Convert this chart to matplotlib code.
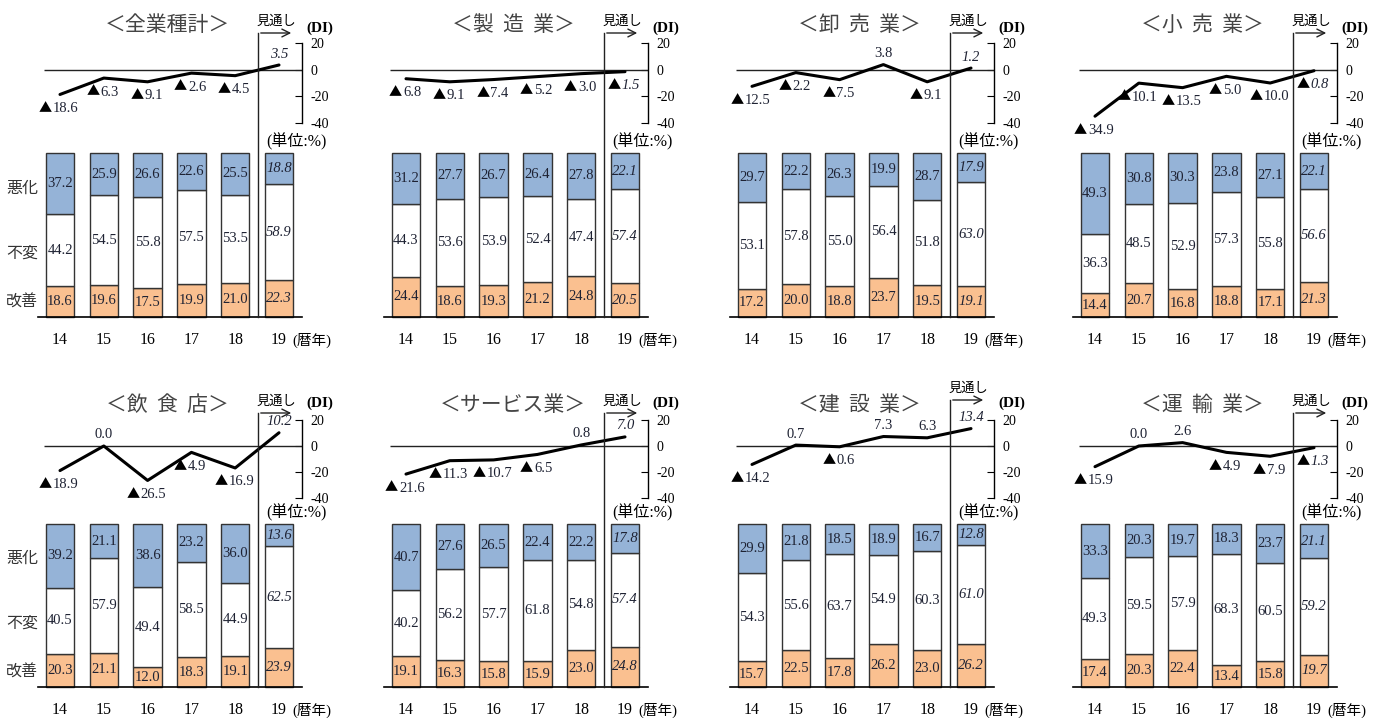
"""業種別 業況DIと改善・不変・悪化の構成比（2014〜2019年見通し）"""

import matplotlib

matplotlib.use("Agg")
import matplotlib.pyplot as plt
from matplotlib.lines import Line2D
from matplotlib.patches import FancyArrowPatch

plt.rcParams["axes.unicode_minus"] = False

SERIF = ["Liberation Serif", "Noto Sans CJK JP", "DejaVu Sans"]
SANS = ["Noto Sans CJK JP", "DejaVu Sans"]

years = ["14", "15", "16", "17", "18", "19"]
titles = ["＜全業種計＞", "＜製  造  業＞", "＜卸  売  業＞", "＜小  売  業＞",
          "＜飲  食  店＞", "＜サービス業＞", "＜建  設  業＞", "＜運  輸  業＞"]

# 業況DI
di_all = [-18.6, -6.3, -9.1, -2.6, -4.5, 3.5]
di_mfg = [-6.8, -9.1, -7.4, -5.2, -3.0, -1.5]
di_wholesale = [-12.5, -2.2, -7.5, 3.8, -9.1, 1.2]
di_retail = [-34.9, -10.1, -13.5, -5.0, -10.0, -0.8]
di_food = [-18.9, 0.0, -26.5, -4.9, -16.9, 10.2]
di_service = [-21.6, -11.3, -10.7, -6.5, 0.8, 7.0]
di_construction = [-14.2, 0.7, -0.6, 7.3, 6.3, 13.4]
di_transport = [-15.9, 0.0, 2.6, -4.9, -7.9, -1.3]

# 改善
up_all = [18.6, 19.6, 17.5, 19.9, 21.0, 22.3]
up_mfg = [24.4, 18.6, 19.3, 21.2, 24.8, 20.5]
up_wholesale = [17.2, 20.0, 18.8, 23.7, 19.5, 19.1]
up_retail = [14.4, 20.7, 16.8, 18.8, 17.1, 21.3]
up_food = [20.3, 21.1, 12.0, 18.3, 19.1, 23.9]
up_service = [19.1, 16.3, 15.8, 15.9, 23.0, 24.8]
up_construction = [15.7, 22.5, 17.8, 26.2, 23.0, 26.2]
up_transport = [17.4, 20.3, 22.4, 13.4, 15.8, 19.7]

# 不変
flat_all = [44.2, 54.5, 55.8, 57.5, 53.5, 58.9]
flat_mfg = [44.3, 53.6, 53.9, 52.4, 47.4, 57.4]
flat_wholesale = [53.1, 57.8, 55.0, 56.4, 51.8, 63.0]
flat_retail = [36.3, 48.5, 52.9, 57.3, 55.8, 56.6]
flat_food = [40.5, 57.9, 49.4, 58.5, 44.9, 62.5]
flat_service = [40.2, 56.2, 57.7, 61.8, 54.8, 57.4]
flat_construction = [54.3, 55.6, 63.7, 54.9, 60.3, 61.0]
flat_transport = [49.3, 59.5, 57.9, 68.3, 60.5, 59.2]

# 悪化
down_all = [37.2, 25.9, 26.6, 22.6, 25.5, 18.8]
down_mfg = [31.2, 27.7, 26.7, 26.4, 27.8, 22.1]
down_wholesale = [29.7, 22.2, 26.3, 19.9, 28.7, 17.9]
down_retail = [49.3, 30.8, 30.3, 23.8, 27.1, 22.1]
down_food = [39.2, 21.1, 38.6, 23.2, 36.0, 13.6]
down_service = [40.7, 27.6, 26.5, 22.4, 22.2, 17.8]
down_construction = [29.9, 21.8, 18.5, 18.9, 16.7, 12.8]
down_transport = [33.3, 20.3, 19.7, 18.3, 23.7, 21.1]

di_sets = [di_all, di_mfg, di_wholesale, di_retail,
           di_food, di_service, di_construction, di_transport]
up_sets = [up_all, up_mfg, up_wholesale, up_retail,
           up_food, up_service, up_construction, up_transport]
flat_sets = [flat_all, flat_mfg, flat_wholesale, flat_retail,
             flat_food, flat_service, flat_construction, flat_transport]
down_sets = [down_all, down_mfg, down_wholesale, down_retail,
             down_food, down_service, down_construction, down_transport]

W, H = 1383, 718
C_UP = "#fac090"
C_DOWN = "#95b3d7"
TXT = "#1e2233"
DI_FS = 10.5

# パネル配置（ピクセル）
col_x = [0, 346, 692, 1035]
rows = [
    dict(bar_top=153, bar_bot=317, di_top=43, di_bot=123, arrow_y=33,
         title_y=25, mitoshi_y=21, dil_y=28, tick_y=338),
    dict(bar_top=524, bar_bot=687, di_top=420, di_bot=498, arrow_y=413,
         title_y=405, mitoshi_y=401, dil_y=403, tick_y=708),
]
STEP = 43.8
X0 = (38 - 60) / STEP
X1 = (302 - 60) / STEP


def fx(x):
    return x / W


def fy(y):
    return 1 - y / H


def rect(l, t, r, b):
    return [fx(l), fy(b), (r - l) / W, (b - t) / H]


fig = plt.figure(figsize=(W / 100, H / 100), dpi=100)

for k in range(8):
    ox = col_x[k % 4]
    g = rows[k // 4]
    di, up, flat, down = di_sets[k], up_sets[k], flat_sets[k], down_sets[k]
    xs = list(range(len(years)))

    # 構成比の積み上げ棒
    ax = fig.add_axes(rect(ox + 38, g["bar_top"], ox + 302, g["bar_bot"]))
    bottoms2 = [a + b for a, b in zip(up, flat)]
    for vals, base, col in ((up, [0] * 6, C_UP), (flat, up, "white"), (down, bottoms2, C_DOWN)):
        ax.bar(xs, vals, bottom=base, width=0.65, color=col, edgecolor="#333333",
               linewidth=1.0, clip_on=False)
        for i, (v, b) in enumerate(zip(vals, base)):
            ax.text(i, b + v / 2, f"{v:.1f}", ha="center", va="center", fontsize=10.5,
                    color=TXT, family=SERIF, style="italic" if i == 5 else "normal")
    ax.set_xlim(X0, X1)
    ax.set_ylim(0, 100)
    ax.set_yticks([])
    for s in ("left", "right", "top"):
        ax.spines[s].set_visible(False)
    ax.spines["bottom"].set_linewidth(1.2)
    ax.set_xticks(xs)
    ax.set_xticklabels(years, family=SERIF, fontsize=11.5)
    ax.tick_params(axis="x", length=0, pad=11)
    fig.text(fx(ox + 312), fy(g["tick_y"] + 2), "(暦年)", ha="center", va="center",
             fontsize=10.5, family=SERIF)
    fig.text(fx(ox + 296), fy(g["bar_top"] - 11), "(単位:%)", ha="center", va="center",
             fontsize=11.5, family=SERIF)

    if k % 4 == 0:
        for name, yy in (("悪化", 0.787), ("不変", 0.39), ("改善", 0.09)):
            ax.text(-16 / 264, yy, name, transform=ax.transAxes, ha="center", va="center",
                    fontsize=11.5, family=SANS, color="#333333")

    # 業況DIの折れ線
    ad = fig.add_axes(rect(ox + 38, g["di_top"], ox + 302, g["di_bot"]))
    ad.patch.set_alpha(0)
    ad.set_xlim(X0, X1)
    ad.set_ylim(-40, 20)
    for s in ("left", "top", "bottom"):
        ad.spines[s].set_visible(False)
    ad.spines["right"].set_linewidth(1.0)
    ad.set_xticks([])
    ad.yaxis.tick_right()
    ad.set_yticks([20, 0, -20, -40])
    ad.tick_params(axis="y", direction="in", length=5, pad=6, labelsize=10)
    for lab in ad.get_yticklabels():
        lab.set_family(SERIF)
    ad.hlines(0, (44 - 60) / STEP, X1, color="#222222", linewidth=1.0)
    ad.plot(xs, di, color="black", linewidth=2.2, solid_capstyle="round", zorder=3)
    em = DI_FS * 100 / 72
    for i, v in enumerate(di):
        num = f"{abs(v):.1f}"
        sty = "italic" if i == 5 else "normal"
        if v < 0:
            # ▲は全角記号として別に描く
            num_w = (len(num) - 1) * 0.5 * em + 0.25 * em
            cx = 6
            ad.annotate(num, (i, v), xytext=(cx, -14), textcoords="offset pixels",
                        ha="center", va="center", fontsize=DI_FS, family=SERIF, color=TXT,
                        style=sty, annotation_clip=False)
            ad.annotate("▲", (i, v), xytext=(cx - num_w / 2 - 1, -14),
                        textcoords="offset pixels", ha="right", va="center",
                        fontsize=DI_FS - 1, family=SANS, color="black",
                        annotation_clip=False)
        else:
            ad.annotate(num, (i, v), xytext=(0, 11), textcoords="offset pixels",
                        ha="center", va="center", fontsize=DI_FS, family=SERIF, color=TXT,
                        style=sty, annotation_clip=False)

    fig.text(fx(ox + 320), fy(g["dil_y"]), "(DI)", ha="center", va="center",
             fontsize=11, family=SERIF, fontweight="bold")

    # 見通しの区切り線と矢印
    raise_px = 13 if k == 6 else 0
    ay = g["arrow_y"] - raise_px
    sep_x = ox + 258
    fig.add_artist(Line2D([fx(sep_x), fx(sep_x)], [fy(ay), fy(g["bar_bot"])],
                          transform=fig.transFigure, color="#222222", linewidth=1.0))
    fig.add_artist(FancyArrowPatch((fx(sep_x), fy(ay)), (fx(ox + 294), fy(ay)),
                                   transform=fig.transFigure, arrowstyle="->",
                                   mutation_scale=14, color="#222222", linewidth=1.0))
    fig.text(fx(ox + 276), fy(g["mitoshi_y"] - raise_px), "見通し", ha="center",
             va="center", fontsize=9.5, family=SANS)

    # タイトル
    fig.text(fx(ox + 167), fy(g["title_y"]), titles[k], ha="center", va="center",
             fontsize=15, family=SANS, color="#444444")

fig.savefig("out.png", dpi=100)
plt.close(fig)
